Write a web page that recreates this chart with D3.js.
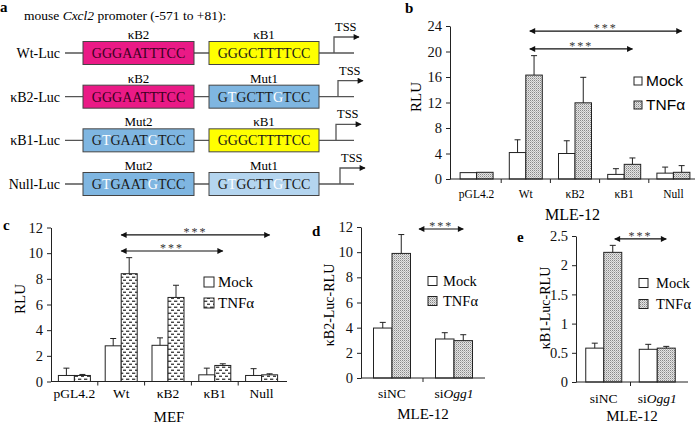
<!DOCTYPE html>
<html>
<head>
<meta charset="utf-8">
<script src="https://cdn.jsdelivr.net/npm/d3@7"></script>
<style>
body { margin: 0; background: #fff; }
svg { display: block; }
</style>
</head>
<body>
<svg id="fig" width="700" height="425"></svg>
<script>
// ---- panel a: promoter constructs
var constructNames = ["Wt-Luc", "κB2-Luc", "κB1-Luc", "Null-Luc"];
var site2Labels = ["κB2", "κB2", "Mut2", "Mut2"];
var site2Seqs = ["GGGAATTTCC", "GGGAATTTCC", "GTGAATGTCC", "GTGAATGTCC"];
var site1Labels = ["κB1", "Mut1", "κB1", "Mut1"];
var site1Seqs = ["GGGCTTTTCC", "GTGCTTGTCC", "GGGCTTTTCC", "GTGCTTGTCC"];
var mutatedPos = [1, 6];

// ---- panel b: MLE-12
var constructs = ["pGL4.2", "Wt", "κB2", "κB1", "Null"];
var mleMock = [1.0, 4.15, 4.0, 0.72, 0.92];
var mleMockErr = [0, 2.0, 2.0, 0.9, 0.95];
var mleTnf = [1.05, 16.3, 11.95, 2.3, 1.05];
var mleTnfErr = [0, 3.05, 4.0, 1.0, 1.05];
var mleTicks = [0, 4, 8, 12, 16, 20, 24];

// ---- panel c: MEF
var mefMock = [0.47, 2.78, 2.82, 0.52, 0.47];
var mefMockErr = [0.57, 0.57, 0.58, 0.52, 0.53];
var mefTnf = [0.47, 8.4, 6.55, 1.25, 0.52];
var mefTnfErr = [0.08, 1.25, 0.95, 0.13, 0.08];
var mefTicks = [0, 2, 4, 6, 8, 10, 12];

// ---- panels d, e: siRNA
var siGroups = ["siNC", "siOgg1"];
var kb2Mock = [3.97, 3.1];
var kb2MockErr = [0.45, 0.5];
var kb2Tnf = [9.9, 2.97];
var kb2TnfErr = [1.5, 0.47];
var kb2Ticks = [0, 2, 4, 6, 8, 10, 12];
var kb1Mock = [0.58, 0.56];
var kb1MockErr = [0.085, 0.085];
var kb1Tnf = [2.22, 0.58];
var kb1TnfErr = [0.12, 0.03];
var kb1Ticks = [0, 0.5, 1, 1.5, 2, 2.5];

var serif = "'Liberation Serif', 'Times New Roman', Times, serif";
var svg = d3.select("#fig").attr("font-family", serif);
svg.append("rect").attr("width", 700).attr("height", 425).attr("fill", "#fff");

var defs = svg.append("defs");
var dots = defs.append("pattern").attr("id", "dots")
	.attr("patternUnits", "userSpaceOnUse").attr("width", 2).attr("height", 2);
dots.append("rect").attr("width", 2).attr("height", 2).attr("fill", "#e4e4e4");
dots.append("rect").attr("width", 1).attr("height", 1).attr("fill", "#888");
dots.append("rect").attr("x", 1).attr("y", 1).attr("width", 1).attr("height", 1).attr("fill", "#b8b8b8");

var dashes = defs.append("pattern").attr("id", "dashes")
	.attr("patternUnits", "userSpaceOnUse").attr("width", 6).attr("height", 6);
dashes.append("rect").attr("width", 6).attr("height", 6).attr("fill", "#fff");
dashes.append("rect").attr("x", 0).attr("y", 0.6).attr("width", 3.3).attr("height", 1.3).attr("fill", "#333");
dashes.append("rect").attr("x", 3).attr("y", 3.6).attr("width", 3).attr("height", 1.3).attr("fill", "#333");

defs.append("marker").attr("id", "arrow")
	.attr("viewBox", "0 0 10 10").attr("refX", 9).attr("refY", 5)
	.attr("markerWidth", 8).attr("markerHeight", 6).attr("markerUnits", "userSpaceOnUse")
	.attr("orient", "auto-start-reverse")
	.append("path").attr("d", "M0,0L10,5L0,10Z").attr("fill", "#111");

function panelLetter(t, x, y) {
	svg.append("text").attr("x", x).attr("y", y)
		.attr("font-weight", "bold").attr("font-size", 15).text(t);
}

// ================= panel a
panelLetter("a", 0, 12);
var title = svg.append("text").attr("x", 24).attr("y", 20).attr("font-size", 13.5);
title.append("tspan").text("mouse ");
title.append("tspan").attr("font-style", "italic").text("Cxcl2");
title.append("tspan").text(" promoter (-571 to +81):");

var rowY = d3.scalePoint().domain(constructNames).range([53, 184]);
var box2 = {x: 83, w: 111}, box1 = {x: 209, w: 110}, boxH = 23;
var tssBend = [334, 338, 336, 340];
var lineCol = "#555";

function boxFill(label, i) {
	if (label === "κB2") return "#ea1a86";
	if (label === "κB1") return "#ffff00";
	if (label === "Mut1" && i === 3) return "#b4d5ef";
	return "#7fb6e1";
}
function seqText(g, seq, label, cx, cy) {
	var mut = label.indexOf("Mut") === 0;
	var t = g.append("text").attr("x", cx).attr("y", cy + 5)
		.attr("text-anchor", "middle").attr("font-size", 14)
		.attr("fill", label === "κB2" ? "#3a0020" : "#1a1a1a");
	seq.split("").forEach(function(ch, k) {
		t.append("tspan").attr("fill", mut && mutatedPos.indexOf(k) >= 0 ? "#fff" : null).text(ch);
	});
}

constructNames.forEach(function(name, i) {
	var cy = rowY(name);
	var g = svg.append("g");
	g.append("text").attr("x", 60).attr("y", cy + 5).attr("text-anchor", "end")
		.attr("font-size", 14).text(name);
	g.append("line").attr("x1", 65).attr("x2", 354).attr("y1", cy).attr("y2", cy)
		.attr("stroke", lineCol).attr("stroke-width", 1.3);
	[[box2, site2Labels[i], site2Seqs[i]], [box1, site1Labels[i], site1Seqs[i]]].forEach(function(b) {
		g.append("rect").attr("x", b[0].x).attr("y", cy - boxH / 2)
			.attr("width", b[0].w).attr("height", boxH)
			.attr("fill", boxFill(b[1], i)).attr("stroke", "#444").attr("stroke-width", 1);
		g.append("text").attr("x", b[0].x + b[0].w / 2).attr("y", cy - 14)
			.attr("text-anchor", "middle").attr("font-size", 13).text(b[1]);
		seqText(g, b[2], b[1], b[0].x + b[0].w / 2, cy);
	});
	var bx = tssBend[i];
	g.append("path").attr("d", "M" + bx + "," + cy + "V" + (cy - 16) + "H" + (bx + 25))
		.attr("fill", "none").attr("stroke", lineCol).attr("stroke-width", 1.3)
		.attr("marker-end", "url(#arrow)");
	g.append("text").attr("x", bx + 1).attr("y", cy - 22).attr("font-size", 12.5).text("TSS");
});

// ================= bar panels
function barPanel(o) {
	var g = svg.append("g");
	var x = d3.scaleBand().domain(o.groups).range(o.xRange);
	var y = d3.scaleLinear().domain([0, o.max]).range([o.y0, o.yTop]);
	var inner = d3.scaleBand().domain(["Mock", "TNFα"]).range([-o.barW, o.barW]);
	var series = [
		{name: "Mock", values: o.mock, errs: o.mockErr, fill: "#fff"},
		{name: "TNFα", values: o.tnf, errs: o.tnfErr, fill: "url(#" + o.pattern + ")"}
	];
	function cx(grp) { return x(grp) + x.bandwidth() / 2; }

	series.forEach(function(s) {
		var pts = o.groups.map(function(grp, i) {
			return {grp: grp, v: s.values[i], e: s.errs[i]};
		});
		g.selectAll(null).data(pts).enter().append("rect")
			.attr("x", function(d) { return cx(d.grp) + inner(s.name); })
			.attr("y", function(d) { return y(d.v); })
			.attr("width", inner.bandwidth())
			.attr("height", function(d) { return o.y0 - y(d.v); })
			.attr("fill", s.fill).attr("stroke", "#222").attr("stroke-width", 1);
		var eb = g.selectAll(null).data(pts.filter(function(d) { return d.e > 0; })).enter().append("g")
			.attr("stroke", "#222").attr("stroke-width", 1);
		eb.append("line")
			.attr("x1", function(d) { return cx(d.grp) + inner(s.name) + inner.bandwidth() / 2; })
			.attr("x2", function(d) { return cx(d.grp) + inner(s.name) + inner.bandwidth() / 2; })
			.attr("y1", function(d) { return y(d.v); })
			.attr("y2", function(d) { return y(d.v + d.e); });
		eb.append("line")
			.attr("x1", function(d) { return cx(d.grp) + inner(s.name) + inner.bandwidth() / 2 - 3; })
			.attr("x2", function(d) { return cx(d.grp) + inner(s.name) + inner.bandwidth() / 2 + 3; })
			.attr("y1", function(d) { return y(d.v + d.e); })
			.attr("y2", function(d) { return y(d.v + d.e); });
	});

	// y axis
	var ya = g.append("g").attr("transform", "translate(" + o.axisX[0] + ",0)")
		.call(d3.axisLeft(y).tickValues(o.ticks).tickSize(4).tickSizeOuter(0).tickPadding(4)
			.tickFormat(d3.format("~g")));
	ya.attr("font-family", serif).attr("font-size", o.yTickSize);
	ya.selectAll("text").attr("fill", "#111");
	ya.selectAll("line, path").attr("stroke", "#222");

	// x axis
	g.append("line").attr("x1", o.axisX[0]).attr("x2", o.axisX[1])
		.attr("y1", o.y0).attr("y2", o.y0).attr("stroke", "#222");
	g.selectAll(null).data(o.groups.slice(1)).enter().append("line")
		.attr("x1", function(d) { return x(d); }).attr("x2", function(d) { return x(d); })
		.attr("y1", o.y0).attr("y2", o.y0 + 4).attr("stroke", "#222");
	var xl = g.selectAll(null).data(o.groups).enter().append("text")
		.attr("x", function(d) { return cx(d); }).attr("y", o.xLabelY)
		.attr("text-anchor", "middle").attr("font-size", o.xTickSize);
	xl.each(function(d) {
		var t = d3.select(this);
		if (d === "siOgg1") {
			t.append("tspan").text("si");
			t.append("tspan").attr("font-style", "italic").text("Ogg1");
		} else t.text(d);
	});
	g.append("text").attr("x", (o.axisX[0] + o.axisX[1]) / 2).attr("y", o.xTitleY)
		.attr("text-anchor", "middle").attr("font-size", o.xTitleSize).text(o.xTitle);
	g.append("text").attr("transform", "translate(" + o.yTitlePos[0] + "," + o.yTitlePos[1] + ") rotate(-90)")
		.attr("text-anchor", "middle").attr("font-size", o.yTitleSize).text(o.yTitle);

	// legend
	series.forEach(function(s, i) {
		var ly = o.legend.y + i * o.legend.gap;
		g.append("rect").attr("x", o.legend.x).attr("y", ly - o.legend.sq / 2)
			.attr("width", o.legend.sq).attr("height", o.legend.sq)
			.attr("fill", s.fill).attr("stroke", "#222");
		g.append("text").attr("x", o.legend.x + o.legend.sq + o.legend.pad).attr("y", ly)
			.attr("dy", "0.35em").attr("font-size", o.legend.size)
			.attr("font-family", o.legend.font || null).text(s.name);
	});

	// significance
	o.sig.forEach(function(s) {
		var ay = y(s.level);
		var x1 = cx(s.from) + s.dx, x2 = cx(s.to) + inner.bandwidth() / 2;
		g.append("line").attr("x1", x1).attr("x2", x2).attr("y1", ay).attr("y2", ay)
			.attr("stroke", "#111").attr("stroke-width", 1.2)
			.attr("marker-start", "url(#arrow)").attr("marker-end", "url(#arrow)");
		g.append("text").attr("x", (x1 + x2) / 2).attr("y", ay + 1)
			.attr("text-anchor", "middle").attr("font-size", 12).attr("letter-spacing", 2)
			.attr("fill", "#333").text("***");
	});
}

panelLetter("b", 405, 13);
barPanel({
	groups: constructs, mock: mleMock, mockErr: mleMockErr, tnf: mleTnf, tnfErr: mleTnfErr,
	max: 24, ticks: mleTicks, pattern: "dots",
	xRange: [452, 698], axisX: [450, 695], y0: 179, yTop: 26, barW: 16.5,
	yTickSize: 14.5, xTickSize: 11.5, xLabelY: 198, xTitle: "MLE-12", xTitleY: 220, xTitleSize: 16,
	yTitle: "RLU", yTitlePos: [421, 97], yTitleSize: 15,
	legend: {x: 634, y: 81, gap: 24, sq: 8, pad: 4, size: 15.5, font: "'Liberation Sans', Arial, sans-serif"},
	sig: [{from: "Wt", to: "Null", level: 23.2, dx: 4}, {from: "Wt", to: "κB1", level: 20.4, dx: 4}]
});

panelLetter("c", 3, 230);
barPanel({
	groups: constructs, mock: mefMock, mockErr: mefMockErr, tnf: mefTnf, tnfErr: mefTnfErr,
	max: 12, ticks: mefTicks, pattern: "dashes",
	xRange: [51, 285], axisX: [51, 287], y0: 381.5, yTop: 227.5, barW: 16,
	yTickSize: 14.5, xTickSize: 13.5, xLabelY: 398, xTitle: "MEF", xTitleY: 422, xTitleSize: 15,
	yTitle: "RLU", yTitlePos: [25, 299], yTitleSize: 15,
	legend: {x: 204, y: 282, gap: 21, sq: 10, pad: 4, size: 15},
	sig: [{from: "Wt", to: "Null", level: 11.42, dx: 0}, {from: "Wt", to: "κB1", level: 10.17, dx: 0}]
});

panelLetter("d", 312, 236);
barPanel({
	groups: siGroups, mock: kb2Mock, mockErr: kb2MockErr, tnf: kb2Tnf, tnfErr: kb2TnfErr,
	max: 12, ticks: kb2Ticks, pattern: "dots",
	xRange: [361, 485], axisX: [361, 485], y0: 378, yTop: 227, barW: 18.5,
	yTickSize: 14.5, xTickSize: 13.5, xLabelY: 398, xTitle: "MLE-12", xTitleY: 419, xTitleSize: 15,
	yTitle: "κB2-Luc-RLU", yTitlePos: [334, 305], yTitleSize: 14,
	legend: {x: 428, y: 281, gap: 20, sq: 9, pad: 6, size: 14.5},
	sig: [{from: "siNC", to: "siOgg1", level: 11.84, dx: 27}]
});

panelLetter("e", 517, 242);
barPanel({
	groups: siGroups, mock: kb1Mock, mockErr: kb1MockErr, tnf: kb1Tnf, tnfErr: kb1TnfErr,
	max: 2.5, ticks: kb1Ticks, pattern: "dots",
	xRange: [577, 684], axisX: [576, 688], y0: 382, yTop: 236, barW: 18,
	yTickSize: 14.5, xTickSize: 13.5, xLabelY: 403, xTitle: "MLE-12", xTitleY: 421, xTitleSize: 15,
	yTitle: "κB1-Luc-RLU", yTitlePos: [550, 308], yTitleSize: 14,
	legend: {x: 639, y: 283, gap: 21, sq: 9, pad: 8, size: 14.5},
	sig: [{from: "siNC", to: "siOgg1", level: 2.45, dx: 11}]
});
</script>
</body>
</html>
